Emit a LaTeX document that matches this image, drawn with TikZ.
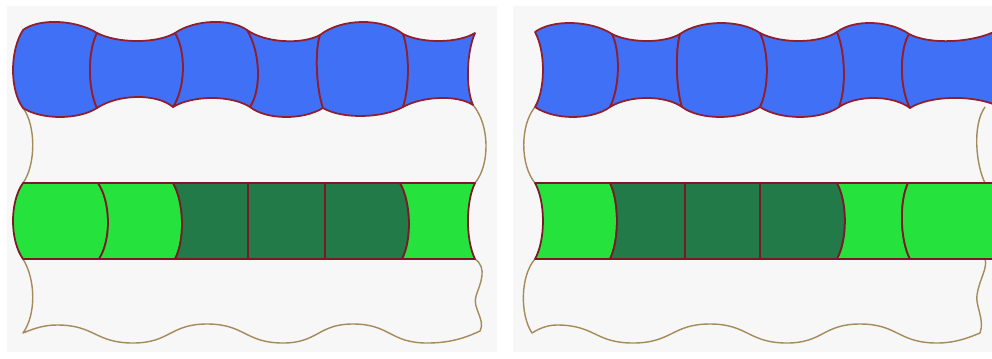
\documentclass[tikz,border=0pt]{standalone}
\usetikzlibrary{calc}
\definecolor{tileblue}{RGB}{64,112,245}
\definecolor{lgreen}{RGB}{38,226,60}
\definecolor{dgreen}{RGB}{33,122,72}
\definecolor{rimred}{RGB}{145,30,45}
\definecolor{rimtan}{RGB}{165,138,90}
\definecolor{panelgrey}{RGB}{247,247,248}
\tikzset{
  panel/.style = {fill=panelgrey, draw=none},
  bluetile/.style = {fill=tileblue, draw=rimred, line width=1.5pt, line join=round},
  lightg/.style = {fill=lgreen, draw=rimred!85!black, line width=1.5pt, line join=round},
  darkg/.style = {fill=dgreen, draw=rimred!85!black, line width=1.5pt, line join=round},
  rim/.style = {draw=rimtan, line width=1.2pt, line join=round}
}
\newcommand\seg[3]{.. controls ($1.3333*(#2)+0.0833*(#1)-0.4167*(#3)$) and ($1.3333*(#2)-0.4167*(#1)+0.0833*(#3)$) .. (#3)}
\newcommand\tile[9]{%
  \filldraw[#1] (#2) \seg{#2}{#3}{#4} \seg{#4}{#5}{#6}
    \seg{#6}{#7}{#8} \seg{#8}{#9}{#2} -- cycle;}
\newcommand\gtile[7]{%
  \filldraw[#1] (#2,183) -- (#5,183) \seg{#5,183}{#6,221}{#7,259}
    -- (#4,259) \seg{#4,259}{#3,221}{#2,183} -- cycle;}
\begin{document}
\begin{tikzpicture}[x=0.03cm, y=-0.03cm]
  \clip (0,0) rectangle (992,358);
  \fill[white] (0,0) rectangle (992,358);
  \fill[panel] (7,6) rectangle (497,352);
  \fill[panel] (513,6) rectangle (992,352);

  \draw[rim] (23,108) .. controls (36,125) and (36,165) .. (23,183);
  \draw[rim] (473,105) .. controls (490,125) and (490,165) .. (475,183);
  \draw[rim] (23,259) .. controls (36,280) and (36,315) .. (23,333)
    .. controls (35,328) and (45,325) .. (57,325)
    .. controls (95,325) and (95,343) .. (133,343)
    .. controls (170,343) and (170,324) .. (207,324)
    .. controls (245,324) and (245,343) .. (283,343)
    .. controls (318,343) and (318,324) .. (353,324)
    .. controls (390,324) and (390,343) .. (427,343)
    .. controls (450,343) and (465,338) .. (480,331)
    .. controls (486,320) and (472,308) .. (476,296)
    .. controls (480,284) and (488,268) .. (475,259);

  \draw[rim] (535,107) .. controls (520,125) and (520,165) .. (535,183);
  \draw[rim] (985,107) .. controls (972,125) and (976,165) .. (985,183);
  \draw[rim] (535,259) .. controls (520,276) and (520,315) .. (532,333)
    .. controls (540,328) and (548,325) .. (557,325)
    .. controls (595,325) and (595,343) .. (633,343)
    .. controls (672,343) and (672,324) .. (710,324)
    .. controls (748,324) and (748,343) .. (787,343)
    .. controls (823,343) and (823,324) .. (860,324)
    .. controls (898,324) and (898,343) .. (937,343)
    .. controls (955,343) and (968,338) .. (980,333)
    .. controls (985,320) and (975,305) .. (977,295)
    .. controls (979,280) and (988,268) .. (985,259);

  \tile{bluetile}{23,30}{58,22}{97,33}{90,70}{97,108}{60,117}{23,108}{13,70}
  \tile{bluetile}{97,33}{137,41}{175,33}{183,70}{173,107}{137,97}{97,108}{90,70}
  \tile{bluetile}{175,33}{212,22}{247,30}{258,70}{250,107}{212,98}{173,107}{183,70}
  \tile{bluetile}{247,30}{283,41}{320,35}{317,70}{323,108}{285,117}{250,107}{258,70}
  \tile{bluetile}{320,35}{362,22}{403,34}{408,70}{403,107}{362,116}{323,108}{317,70}
  \tile{bluetile}{403,34}{440,41}{475,33}{468,70}{473,105}{440,98}{403,107}{408,70}

  \tile{bluetile}{535,32}{572,23}{612,34}{618,70}{610,107}{573,117}{535,107}{543,70}
  \tile{bluetile}{612,34}{647,41}{680,34}{677,70}{682,107}{647,98}{610,107}{618,70}
  \tile{bluetile}{680,34}{720,23}{760,33}{767,70}{760,107}{720,117}{682,107}{677,70}
  \tile{bluetile}{760,33}{800,41}{837,32}{844,70}{839,107}{800,117}{760,107}{767,70}
  \tile{bluetile}{837,32}{872,23}{909,34}{902,70}{910,108}{875,98}{839,107}{844,70}
  \tile{bluetile}{909,34}{952,41}{998,30}{998,68}{998,106}{952,98}{910,108}{902,70}

  \gtile{lightg}{23}{13}{23}{98}{108}{99}
  \gtile{lightg}{98}{108}{99}{173}{182}{175}
  \gtile{darkg}{173}{182}{175}{248}{248}{248}
  \gtile{darkg}{248}{248}{248}{325}{325}{325}
  \gtile{darkg}{325}{325}{325}{400}{409}{402}
  \gtile{lightg}{400}{409}{402}{475}{468}{475}

  \gtile{lightg}{535}{543}{535}{610}{617}{610}
  \gtile{darkg}{610}{617}{610}{685}{685}{685}
  \gtile{darkg}{685}{685}{685}{760}{760}{760}
  \gtile{darkg}{760}{760}{760}{837}{845}{837}
  \gtile{lightg}{837}{845}{837}{908}{902}{910}
  \gtile{lightg}{908}{902}{910}{998}{998}{998}
\end{tikzpicture}
\end{document}
